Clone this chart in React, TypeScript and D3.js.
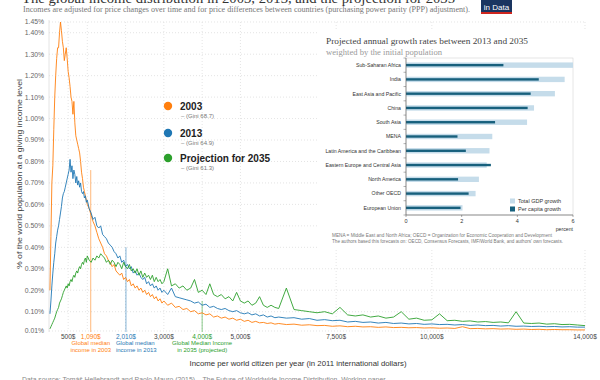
import React from "react";
import * as d3 from "d3";

// ---------- main chart data ----------
const incomes = [
  25, 50, 75, 100, 125, 150, 175, 200, 225, 250,
  275, 300, 325, 350, 375, 400, 425, 450, 475, 500,
  525, 550, 575, 600, 625, 650, 675, 700, 725, 750,
  775, 800, 825, 850, 875, 900, 925, 950, 975, 1000,
  1050, 1100, 1150, 1200, 1250, 1300, 1350, 1400, 1450, 1500,
  1550, 1600, 1650, 1700, 1750, 1800, 1850, 1900, 1950, 2000,
  2050, 2100, 2150, 2200, 2250, 2300, 2350, 2400, 2450, 2500,
  2550, 2600, 2650, 2700, 2750, 2800, 2850, 2900, 2950, 3000,
  3100, 3200, 3300, 3400, 3500, 3600, 3700, 3800, 3900, 4000,
  4100, 4200, 4300, 4400, 4500, 4600, 4700, 4800, 4900, 5000,
  5100, 5200, 5300, 5400, 5500, 5600, 5700, 5800, 5900, 6000,
  6200, 6400, 6600, 6800, 7000, 7200, 7400, 7600, 7800, 8000,
  8200, 8400, 8600, 8800, 9000, 9200, 9400, 9600, 9800, 10000,
  10200, 10400, 10600, 10800, 11000, 11200, 11400, 11600, 11800, 12000,
  12200, 12400, 12600, 12800, 13000, 13200, 13400, 13600, 13800, 14000,
];

const share2003 = [
  0.20, 0.45, 0.70, 0.78, 0.95, 1.10, 1.20, 1.28, 1.33, 1.33,
  1.40, 1.45, 1.41, 1.36, 1.33, 1.27, 1.30, 1.33, 1.28, 1.22,
  1.19, 1.15, 1.10, 1.08, 1.02, 1.08, 0.98, 0.92, 0.90, 0.88,
  0.86, 0.84, 0.80, 0.75, 0.72, 0.68, 0.66, 0.64, 0.62, 0.60,
  0.58, 0.55, 0.52, 0.50, 0.47, 0.44, 0.42, 0.40, 0.37, 0.36,
  0.34, 0.33, 0.31, 0.32, 0.29, 0.28, 0.27, 0.28, 0.25, 0.26,
  0.24, 0.25, 0.22, 0.23, 0.21, 0.22, 0.20, 0.21, 0.19, 0.20,
  0.18, 0.19, 0.17, 0.18, 0.16, 0.17, 0.15, 0.16, 0.14, 0.15,
  0.13, 0.14, 0.12, 0.125, 0.11, 0.115, 0.10, 0.105, 0.09, 0.095,
  0.085, 0.09, 0.075, 0.08, 0.07, 0.075, 0.065, 0.07, 0.06, 0.065,
  0.055, 0.06, 0.05, 0.055, 0.048, 0.05, 0.045, 0.048, 0.042, 0.045,
  0.04, 0.042, 0.037, 0.039, 0.035, 0.036, 0.032, 0.034, 0.03, 0.032,
  0.029, 0.03, 0.027, 0.029, 0.026, 0.027, 0.025, 0.026, 0.024, 0.025,
  0.023, 0.024, 0.022, 0.03, 0.021, 0.022, 0.02, 0.021, 0.019, 0.02,
  0.018, 0.019, 0.017, 0.018, 0.016, 0.017, 0.016, 0.016, 0.015, 0.015,
];

const share2013 = [
  0.09, 0.15, 0.22, 0.28, 0.33, 0.37, 0.42, 0.45, 0.48, 0.50,
  0.53, 0.56, 0.59, 0.63, 0.65, 0.66, 0.68, 0.70, 0.72, 0.74,
  0.76, 0.81, 0.75, 0.78, 0.72, 0.76, 0.74, 0.70, 0.73, 0.69,
  0.71, 0.68, 0.70, 0.66, 0.65, 0.66, 0.63, 0.64, 0.61, 0.62,
  0.58, 0.56, 0.53, 0.54, 0.50, 0.49, 0.50, 0.46, 0.45, 0.44,
  0.42, 0.41, 0.40, 0.38, 0.37, 0.35, 0.36, 0.33, 0.34, 0.31,
  0.32, 0.30, 0.31, 0.28, 0.29, 0.27, 0.28, 0.26, 0.25, 0.26,
  0.23, 0.24, 0.22, 0.23, 0.21, 0.22, 0.20, 0.21, 0.19, 0.20,
  0.18, 0.21, 0.17, 0.165, 0.16, 0.155, 0.15, 0.14, 0.145, 0.13,
  0.135, 0.12, 0.125, 0.115, 0.11, 0.115, 0.105, 0.10, 0.105, 0.095,
  0.09, 0.095, 0.085, 0.09, 0.08, 0.085, 0.075, 0.08, 0.072, 0.075,
  0.07, 0.072, 0.065, 0.068, 0.06, 0.063, 0.058, 0.06, 0.052, 0.055,
  0.05, 0.052, 0.047, 0.05, 0.045, 0.047, 0.043, 0.045, 0.041, 0.043,
  0.04, 0.041, 0.038, 0.04, 0.036, 0.038, 0.035, 0.036, 0.033, 0.035,
  0.032, 0.033, 0.031, 0.032, 0.03, 0.031, 0.029, 0.03, 0.028, 0.028,
];

const share2035 = [
  0.02, 0.03, 0.04, 0.05, 0.06, 0.07, 0.085, 0.10, 0.11, 0.12,
  0.14, 0.15, 0.16, 0.175, 0.19, 0.20, 0.21, 0.22, 0.21, 0.23,
  0.22, 0.24, 0.25, 0.24, 0.26, 0.27, 0.26, 0.28, 0.29, 0.28,
  0.30, 0.31, 0.30, 0.32, 0.33, 0.32, 0.34, 0.35, 0.33, 0.36,
  0.34, 0.33, 0.35, 0.34, 0.36, 0.35, 0.37, 0.36, 0.35, 0.33,
  0.34, 0.32, 0.34, 0.33, 0.31, 0.33, 0.32, 0.30, 0.33, 0.31,
  0.30, 0.32, 0.29, 0.30, 0.28, 0.30, 0.27, 0.29, 0.26, 0.28,
  0.26, 0.27, 0.25, 0.27, 0.24, 0.26, 0.24, 0.25, 0.23, 0.24,
  0.30, 0.22, 0.23, 0.21, 0.22, 0.20, 0.21, 0.25, 0.19, 0.20,
  0.18, 0.23, 0.18, 0.17, 0.18, 0.16, 0.17, 0.15, 0.19, 0.15,
  0.14, 0.15, 0.13, 0.14, 0.17, 0.13, 0.12, 0.13, 0.12, 0.115,
  0.21, 0.11, 0.105, 0.10, 0.095, 0.10, 0.09, 0.12, 0.085, 0.08,
  0.085, 0.075, 0.08, 0.07, 0.075, 0.10, 0.065, 0.07, 0.06, 0.062,
  0.09, 0.058, 0.06, 0.055, 0.057, 0.052, 0.054, 0.05, 0.052, 0.048,
  0.10, 0.047, 0.045, 0.047, 0.042, 0.044, 0.04, 0.041, 0.038, 0.035,
];

const yTicks = [1.45, 1.4, 1.3, 1.2, 1.1, 1.0, 0.9, 0.8, 0.7, 0.6, 0.5, 0.4, 0.3, 0.2, 0.1, 0.01];
const xGrid = [500, 1000, 2000, 3000, 4000, 5000, 7500, 10000, 14000];
const xTickLabels = [500, 3000, 5000, 7500, 10000, 14000];

const seriesNames = ["2003", "2013", "Projection for 2035"];
const seriesGini = ["– (Gini 68.7)", "– (Gini 64.9)", "– (Gini 61.3)"];
const seriesColors = ["#ff7f0e", "#1f77b4", "#2ca02c"];
const medians = [1090, 2010, 4000];
const medianTops = [0.76, 0.4, 0.15];
const medianLabels = [
  ["Global median", "income in 2003"],
  ["Global median", "income in 2013"],
  ["Global Median Income", "in 2035 (projected)"],
];

// ---------- inset data ----------
const regions = [
  "Sub-Saharan Africa",
  "India",
  "East Asia and Pacific",
  "China",
  "South Asia",
  "MENA",
  "Latin America and the Caribbean",
  "Eastern Europe and Central Asia",
  "North America",
  "Other OECD",
  "European Union",
];
const totalGdpGrowth = [6.0, 5.7, 5.35, 4.6, 4.35, 3.1, 3.0, 2.9, 2.62, 2.5, 2.03];
const perCapitaGrowth = [3.5, 4.77, 4.48, 4.37, 3.2, 1.85, 2.15, 3.05, 1.87, 2.25, 1.96];
const insetTicks = [0, 2, 4, 6];

const SANS = "'Liberation Sans', Arial, sans-serif";
const SERIF = "'Liberation Serif', 'Times New Roman', serif";

export default function App() {
  const x = d3.scaleLinear().domain([0, 14000]).range([49, 585]);
  const y = d3.scaleLinear().domain([0.01, 1.45]).range([331, 22]);
  const series = [share2003, share2013, share2035];
  const line = d3
    .line<number>()
    .x((_, i) => x(incomes[i]))
    .y((d) => y(d));

  const fmt = (v: number) => d3.format(",")(v) + "$";

  const xi = d3.scaleLinear().domain([0, 6]).range([406, 573]);
  const yi = d3.scaleBand<string>().domain(regions).range([58, 215]);

  // annotation text placement: 2013 label is left-aligned at its tick label's left edge
  const annAnchor = ["middle", "start", "middle"];
  const annX = [x(medians[0]), x(medians[1]) - 10, x(medians[2])];

  return (
    <svg
      width={600}
      height={380}
      style={{ position: "absolute", left: 0, top: 0, display: "block", background: "#fff" }}
    >
      {/* title (cut off) */}
      <text x={22} y={3} fontFamily={SERIF} fontSize={14} fill="#333" textLength={433} lengthAdjust="spacingAndGlyphs">
        The global income distribution in 2003, 2013, and the projection for 2035
      </text>
      <text x={23} y={12} fontFamily={SERIF} fontSize={8.5} fill="#777" textLength={447} lengthAdjust="spacingAndGlyphs">
        Incomes are adjusted for price changes over time and for price differences between countries (purchasing power parity (PPP) adjustment).
      </text>
      {/* logo */}
      <rect x={481} y={0} width={31} height={12} fill="#1a3560" />
      <rect x={481} y={12} width={31} height={2} fill="#ce261e" />
      <text x={496.5} y={9.5} textAnchor="middle" fontFamily={SANS} fontSize={8} fill="#fff">
        in Data
      </text>

      {/* grid */}
      {yTicks.map((t) => (
        <line key={"gy" + t} x1={49} x2={585} y1={y(t)} y2={y(t)} stroke="#d9d9d9" strokeWidth={0.7} strokeDasharray="1,2" />
      ))}
      {xGrid.map((t) => (
        <line key={"gx" + t} x1={x(t)} x2={x(t)} y1={22} y2={331} stroke="#d9d9d9" strokeWidth={0.7} strokeDasharray="1,2" />
      ))}
      <line x1={49} x2={49} y1={20} y2={332} stroke="#ddd" strokeWidth={0.8} />

      {/* y tick labels */}
      {yTicks.map((t) => (
        <text key={"yl" + t} x={44} y={y(t) + 2.4} textAnchor="end" fontFamily={SANS} fontSize={6.8} fill="#666">
          {t.toFixed(2) + "%"}
        </text>
      ))}
      <text
        transform="translate(22,174) rotate(-90)"
        textAnchor="middle"
        fontFamily={SANS}
        fontSize={8}
        fill="#444"
        textLength={190}
        lengthAdjust="spacingAndGlyphs"
      >
        % of the world population at a giving income level
      </text>

      {/* median lines */}
      {medians.map((m, i) => (
        <line key={"ml" + i} x1={x(m)} x2={x(m)} y1={y(medianTops[i])} y2={332} stroke={seriesColors[i]} strokeOpacity={0.55} strokeWidth={1} />
      ))}

      {/* series lines */}
      {series.map((s, i) => (
        <path key={"s" + i} d={line(s) || ""} fill="none" stroke={seriesColors[i]} strokeWidth={0.9} strokeLinejoin="round" />
      ))}

      {/* x tick labels */}
      {xTickLabels.map((t) => (
        <text key={"xl" + t} x={x(t)} y={338.5} textAnchor="middle" fontFamily={SANS} fontSize={6.5} fill="#444">
          {fmt(t)}
        </text>
      ))}
      {medians.map((m, i) => (
        <g key={"mlab" + i}>
          <text x={x(m)} y={338.5} textAnchor="middle" fontFamily={SANS} fontSize={6.5} fill={seriesColors[i]}>
            {fmt(m)}
          </text>
          {medianLabels[i].map((l, j) => (
            <text
              key={j}
              x={annX[i]}
              y={345 + j * 6.5}
              textAnchor={annAnchor[i] as any}
              fontFamily={SANS}
              fontSize={6}
              fill={seriesColors[i]}
            >
              {l}
            </text>
          ))}
        </g>
      ))}
      <text x={298} y={366} textAnchor="middle" fontFamily={SANS} fontSize={7.5} fill="#333" textLength={217} lengthAdjust="spacingAndGlyphs">
        Income per world citizen per year (in 2011 international dollars)
      </text>
      <text x={22} y={382} fontFamily={SANS} fontSize={7} fill="#888" textLength={365} lengthAdjust="spacingAndGlyphs">
        Data source: Tomáš Hellebrandt and Paolo Mauro (2015) – The Future of Worldwide Income Distribution. Working paper.
      </text>

      {/* legend */}
      {seriesNames.map((n, i) => {
        const cy = [106, 133, 158][i];
        return (
          <g key={"lg" + i}>
            <circle cx={168} cy={cy} r={4.2} fill={seriesColors[i]} />
            <text x={180} y={cy + 4} fontFamily={SANS} fontWeight="bold" fontSize={10} fill="#222">
              {n}
            </text>
            <text x={181} y={cy + 11.5} fontFamily={SANS} fontSize={6} fill="#777">
              {seriesGini[i]}
            </text>
          </g>
        );
      })}

      {/* inset */}
      <rect x={318} y={30} width={282} height={218} fill="#fff" />
      <text x={326} y={44} fontFamily={SERIF} fontSize={8.5} fill="#444" textLength={202} lengthAdjust="spacingAndGlyphs">
        Projected annual growth rates between 2013 and 2035
      </text>
      <text x={326} y={55} fontFamily={SERIF} fontSize={7.5} fill="#999" textLength={116} lengthAdjust="spacingAndGlyphs">
        weighted by the initial population
      </text>
      <rect x={xi(0)} y={58} width={xi(6) - xi(0)} height={157} fill="none" stroke="#ccc" strokeWidth={0.5} />
      {regions.map((r, i) => {
        const cy = (yi(r) as number) + yi.bandwidth() / 2;
        return (
          <g key={"r" + i}>
            <rect x={xi(0)} y={cy - 2.7} width={xi(totalGdpGrowth[i]) - xi(0)} height={5.4} fill="#c5dcea" />
            <rect x={xi(0)} y={cy - 1.2} width={xi(perCapitaGrowth[i]) - xi(0)} height={2.4} fill="#17607d" />
            <text x={401} y={cy + 1.9} textAnchor="end" fontFamily={SANS} fontSize={5.2} fill="#333">
              {r}
            </text>
          </g>
        );
      })}
      {regions.concat(["end"]).map((r, i) => (
        <line key={"tk" + i} x1={403.5} x2={406} y1={58 + i * yi.step()} y2={58 + i * yi.step()} stroke="#666" strokeWidth={0.5} />
      ))}
      <line x1={406} x2={406} y1={58} y2={215} stroke="#555" strokeWidth={0.6} />
      <line x1={406} x2={573} y1={215} y2={215} stroke="#555" strokeWidth={0.6} />
      {insetTicks.map((t) => (
        <g key={"it" + t}>
          <line x1={xi(t)} x2={xi(t)} y1={215} y2={217} stroke="#555" strokeWidth={0.5} />
          <text x={xi(t)} y={223} textAnchor="middle" fontFamily={SANS} fontSize={5.5} fill="#333">
            {t}
          </text>
        </g>
      ))}
      <text x={573} y={231} textAnchor="end" fontFamily={SANS} fontSize={5.2} fill="#333">
        percent
      </text>
      <rect x={510} y={198.5} width={5} height={5} fill="#c5dcea" />
      <text x={518} y={203} fontFamily={SANS} fontSize={5.5} fill="#333">
        Total GDP growth
      </text>
      <rect x={510} y={206.5} width={5} height={5} fill="#17607d" />
      <text x={518} y={211} fontFamily={SANS} fontSize={5.5} fill="#333">
        Per capita growth
      </text>
      <text x={332} y={236.5} fontFamily={SANS} fontSize={4.9} fill="#777" textLength={220} lengthAdjust="spacingAndGlyphs">
        MENA = Middle East and North Africa; OECD = Organization for Economic Cooperation and Development
      </text>
      <text x={332} y={242.5} fontFamily={SANS} fontSize={4.9} fill="#777" textLength={231} lengthAdjust="spacingAndGlyphs">
        The authors based this forecasts on: OECD, Consensus Forecasts, IMF/World Bank, and authors' own forecasts.
      </text>
    </svg>
  );
}
